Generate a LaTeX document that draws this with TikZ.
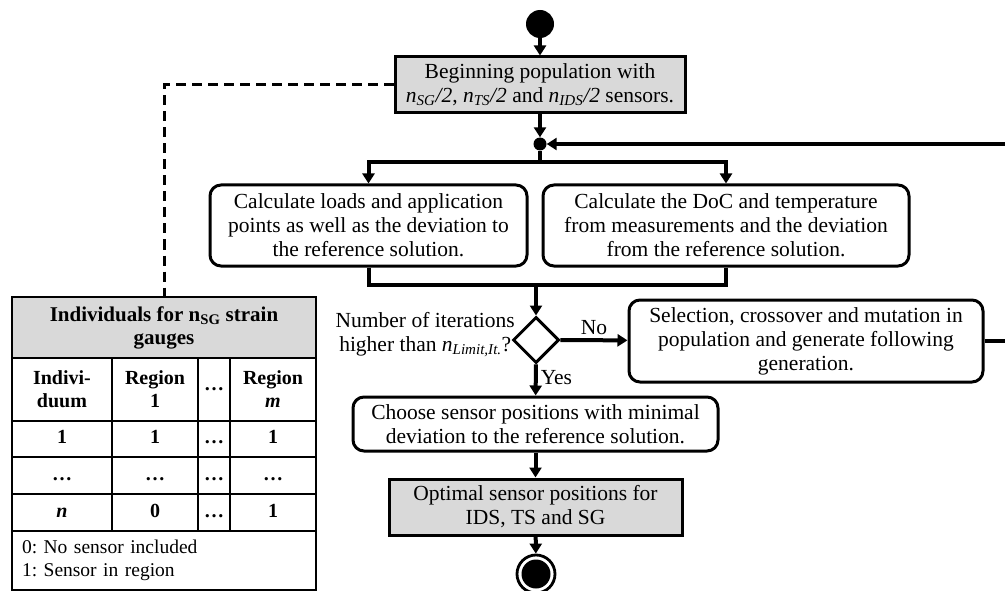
\documentclass[tikz,border=0pt]{standalone}
\usepackage{fontspec}
\setmainfont{Liberation Serif}
\usetikzlibrary{arrows.meta,shapes.geometric}
\definecolor{boxgray}{RGB}{217,217,217}
\frenchspacing
\begin{document}
\begin{tikzpicture}[x=1pt,y=-1pt,
  every node/.style={font=\fontsize{21.5}{24}\selectfont, inner sep=0pt},
  flowline/.style={line width=4pt},
  arr/.style={flowline, -{Triangle[length=10pt,width=12pt]}},
  actbox/.style={draw, line width=3pt, rounded corners=11pt, fill=white, align=center},
  graybox/.style={draw, line width=3pt, fill=boxgray, align=center},
  cell/.style={draw, line width=2.2pt, font=\fontsize{20}{23}\selectfont\bfseries, align=center},
  dashedline/.style={line width=3pt, dash pattern=on 10pt off 6pt},
  lbl/.style={font=\fontsize{21.5}{24}\selectfont}]
\useasboundingbox (0,0) rectangle (1005,591);

% start
\node[circle, fill=black, minimum size=28pt] (start) at (540,24) {};
\node[graybox, minimum width=290pt, minimum height=56pt] (begin) at (540,85)
  {Beginning population with\\
   \textit{n}\textsubscript{\textit{SG}}\textit{/2}, \textit{n}\textsubscript{\textit{TS}}\textit{/2} and \textit{n}\textsubscript{\textit{IDS}}\textit{/2} sensors.};
\node[circle, fill=black, minimum size=13pt] (j) at (540,144) {};
\coordinate (split) at (540,162);

% calculation boxes
\node[actbox, minimum width=317pt, minimum height=81pt] (calc1) at (368.5,225.5)
  {Calculate loads and application\\points as well as the deviation to\\the reference solution.};
\node[actbox, minimum width=366pt, minimum height=81pt] (calc2) at (726,225.5)
  {Calculate the DoC and temperature\\from measurements and the deviation\\from the reference solution.};
\coordinate (merge) at (536,285);

% decision
\node[diamond, draw, line width=3pt, minimum width=46pt, minimum height=46pt, aspect=1] (dec) at (536,340) {};
\node[lbl, anchor=east, align=center] (question) at (515,335)
  {Number of iterations\\higher than \textit{n}\textsubscript{\textit{Limit,It.}}?};
\node[actbox, minimum width=354pt, minimum height=82pt] (sel) at (806,341)
  {Selection, crossover and mutation in\\population and generate following\\generation.};
\coordinate (fbr) at (1008,144);

% lower chain
\node[actbox, minimum width=365pt, minimum height=54pt] (choose) at (535.5,424)
  {Choose sensor positions with minimal\\deviation to the reference solution.};
\node[graybox, minimum width=293pt, minimum height=56pt] (opt) at (535.5,507)
  {Optimal sensor positions for\\IDS, TS and SG};
\node[circle, draw, line width=2.8pt, minimum size=38pt] (end) at (536,574) {};
\fill (end.center) circle (14.5pt);

% connectors
\draw[arr] (start) -- (begin);
\draw[arr] (begin) -- (j);
\draw[flowline] (j) -- (split);
\draw[arr] (split) -| (calc1);
\draw[arr] (split) -| (calc2);
\draw[flowline] (calc1) |- (merge);
\draw[flowline] (calc2) |- (merge);
\draw[arr] (merge) -- (dec);
\draw[arr] (dec) -- node[lbl, above, yshift=4pt] {No} (sel);
\draw[arr] (dec) -- node[lbl, right, xshift=3pt, yshift=2pt] {Yes} (choose);
\draw[arr] (choose) -- (opt);
\draw[arr] (opt) -- (end);
\draw[arr] (sel.east) -| (fbr) -- (j);

% table
\node[cell, fill=boxgray, minimum width=304pt, minimum height=61pt, font=\fontsize{21}{23}\selectfont\bfseries] (hdr) at (164,327.5)
  {Individuals for n\textsubscript{SG} strain\\gauges};
\node[cell, minimum width=100pt, minimum height=63pt] (h1) at (62,389.5) {Indivi-\\duum};
\node[cell, minimum width=86pt, minimum height=63pt] (h2) at (155,389.5) {Region\\1};
\node[cell, minimum width=32pt, minimum height=63pt] (h3) at (214,389.5) {…};
\node[cell, minimum width=86pt, minimum height=63pt] (h4) at (273,389.5) {Region\\\textit{m}};

\node[cell, minimum width=100pt, minimum height=36pt] (a1) at (62,439) {\strut 1};
\node[cell, minimum width=86pt, minimum height=36pt] (a2) at (155,439) {\strut 1};
\node[cell, minimum width=32pt, minimum height=36pt] (a3) at (214,439) {\strut …};
\node[cell, minimum width=86pt, minimum height=36pt] (a4) at (273,439) {\strut 1};

\node[cell, minimum width=100pt, minimum height=37pt] (b1) at (62,475.5) {\strut …};
\node[cell, minimum width=86pt, minimum height=37pt] (b2) at (155,475.5) {\strut …};
\node[cell, minimum width=32pt, minimum height=37pt] (b3) at (214,475.5) {\strut …};
\node[cell, minimum width=86pt, minimum height=37pt] (b4) at (273,475.5) {\strut …};

\node[cell, minimum width=100pt, minimum height=37pt] (c1) at (62,512.5) {\strut \textit{n}};
\node[cell, minimum width=86pt, minimum height=37pt] (c2) at (155,512.5) {\strut 0};
\node[cell, minimum width=32pt, minimum height=37pt] (c3) at (214,512.5) {\strut …};
\node[cell, minimum width=86pt, minimum height=37pt] (c4) at (273,512.5) {\strut 1};

\node[cell, font=\fontsize{19.5}{23}\selectfont, minimum width=304pt, minimum height=59pt, inner xsep=10pt, text width=284pt, align=left] (legend) at (164,560.5)
  {0: No sensor included\\1: Sensor in region};

\draw[dashedline] (begin.west) -| (hdr.north);
\end{tikzpicture}
\end{document}
